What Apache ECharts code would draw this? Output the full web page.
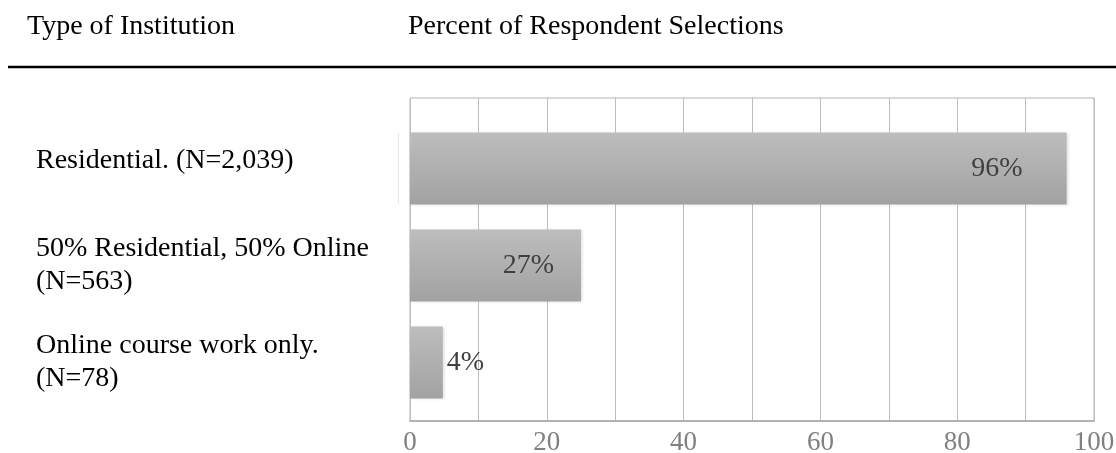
<!DOCTYPE html>
<html>
<head>
<meta charset="utf-8">
<script src="https://cdn.jsdelivr.net/npm/echarts@6/dist/echarts.min.js"></script>
<style>html,body{margin:0;padding:0;background:#fff}#chart{width:1116px;height:453px}</style>
</head>
<body>
<div id="chart"></div>
<script>
var categories = ["Residential. (N=2,039)", "50% Residential, 50% Online\n(N=563)", "Online course work only.\n(N=78)"];
var values = [96, 25, 4.8];
var valueLabels = ["96%", "27%", "4%"];
var xTicks = [0, 20, 40, 60, 80, 100];
var headerLeft = "Type of Institution";
var headerRight = "Percent of Respondent Selections";

var FONT = "Liberation Serif, Times New Roman, serif";
var chart = echarts.init(document.getElementById('chart'));

var labelCfg = [
  {position: 'insideRight', distance: 44},
  {position: 'insideRight', distance: 27},
  {position: 'right', distance: 4}
];
var barData = values.map(function (v, i) {
  return {value: v, label: labelCfg[i]};
});

chart.setOption({
  animation: false,
  backgroundColor: '#fff',
  title: [
    {text: headerLeft, left: 22, top: 8, textStyle: {fontFamily: FONT, fontSize: 28, fontWeight: 'normal', color: '#000'}},
    {text: headerRight, left: 403, top: 8, textStyle: {fontFamily: FONT, fontSize: 28, fontWeight: 'normal', color: '#000'}}
  ],
  graphic: [
    {type: 'line', shape: {x1: 8, y1: 67, x2: 1116, y2: 67}, style: {stroke: '#000', lineWidth: 2.5}, silent: true},
    {type: 'line', shape: {x1: 398.5, y1: 133, x2: 398.5, y2: 204}, style: {stroke: '#e6e6e6', lineWidth: 1}, silent: true}
  ],
  grid: [
    {left: 410, right: 22, top: 98, bottom: 32, show: true, borderColor: '#b3b3b3', borderWidth: 1, containLabel: false, outerBoundsMode: 'none'},
    {left: 410, right: 22, top: 120, bottom: 42, containLabel: false, outerBoundsMode: 'none'}
  ],
  xAxis: [
    {
      gridIndex: 0, type: 'value', min: 0, max: 100, interval: 10,
      axisLine: {show: true, lineStyle: {color: '#a6a6a6', width: 1.5}},
      axisTick: {show: false},
      splitLine: {show: true, lineStyle: {color: '#bfbfbf', width: 1}},
      axisLabel: {
        margin: 8, fontFamily: FONT, fontSize: 27, color: '#808080',
        formatter: function (v) { return xTicks.indexOf(v) >= 0 ? String(v) : ''; }
      }
    },
    {gridIndex: 1, type: 'value', min: 0, max: 100, show: false}
  ],
  yAxis: [
    {gridIndex: 0, type: 'value', show: false, min: 0, max: 1},
    {
      gridIndex: 1, type: 'category', inverse: true, data: categories,
      axisLine: {show: false}, axisTick: {show: false}, splitLine: {show: false},
      axisLabel: {
        show: true, align: 'left', margin: 374, fontFamily: FONT, fontSize: 28,
        color: '#000', lineHeight: 33,
        formatter: function (v, i) { return i === 0 ? '{up|' + v + '}' : v; },
        rich: {up: {fontFamily: FONT, fontSize: 28, color: '#000', lineHeight: 33, padding: [0, 0, 16, 0]}}
      }
    }
  ],
  series: [{
    type: 'bar', xAxisIndex: 1, yAxisIndex: 1, data: barData, barWidth: 72,
    itemStyle: {
      color: new echarts.graphic.LinearGradient(0, 0, 0, 1, [
        {offset: 0, color: '#bdbdbd'},
        {offset: 1, color: '#a2a2a2'}
      ]),
      shadowColor: 'rgba(0,0,0,0.15)', shadowBlur: 3, shadowOffsetX: 1
    },
    label: {
      show: true, fontFamily: FONT, fontSize: 28, color: '#404040',
      formatter: function (p) { return valueLabels[p.dataIndex]; }
    }
  }]
});
</script>
</body>
</html>
